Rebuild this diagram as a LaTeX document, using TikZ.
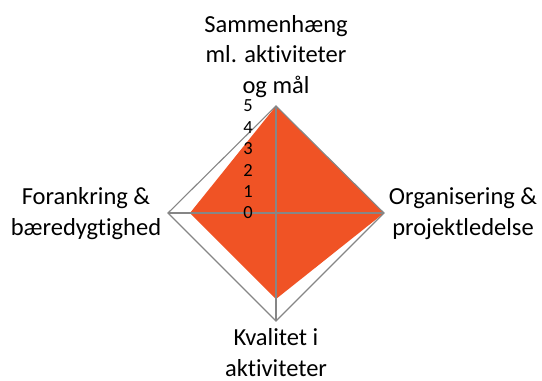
\documentclass[tikz,border=0pt]{standalone}
\usepackage{fontspec}
\setmainfont[Ligatures={NoCommon}]{Carlito}
\definecolor{radarfill}{RGB}{240,83,37}
\definecolor{gridgray}{RGB}{134,134,134}
\begin{document}
\begin{tikzpicture}[x=1pt,y=-1pt,
  gridline/.style={draw=gridgray,line width=1.1pt},
  axislabel/.style={font=\fontsize{24.5}{30.5}\selectfont,align=center,inner sep=0pt,anchor=base},
  ticklabel/.style={font=\fontsize{18.5}{20}\selectfont,inner sep=0pt,anchor=center}]
\useasboundingbox (0,0) rectangle (542,381);
% centre and outer ring (value 5)
\coordinate (c) at (276,213);
\coordinate (gt) at (276,106);
\coordinate (gr) at (384,213);
\coordinate (gb) at (276,321);
\coordinate (gl) at (168,213);
% data points: 5,5,4,4
\coordinate (dt) at (276,106);
\coordinate (dr) at (384,213);
\coordinate (db) at (276,299);
\coordinate (dl) at (190,213);
\fill[radarfill] (dt) -- (dr) -- (db) -- (dl) -- cycle;
\draw[gridline] (gt) -- (gr) -- (gb) -- (gl) -- cycle;
\draw[gridline] (gt) -- (gb);
\draw[gridline] (gl) -- (gr);
% tick labels
\foreach \k in {0,...,5}{
  \node[ticklabel] (tick\k) at (248,213-21.4*\k) {\k};
}
% axis labels (anchor = baseline of last line)
\node[axislabel] (ltop) at (276,93) {Sammenhæng\\ml. aktiviteter\\og mål};
\node[axislabel] (lright) at (463,235) {Organisering \&\\projektledelse};
\node[axislabel] (lbottom) at (276,376) {Kvalitet i\\aktiviteter};
\node[axislabel] (lleft) at (86,235) {Forankring \&\\bæredygtighed};
\end{tikzpicture}
\end{document}
